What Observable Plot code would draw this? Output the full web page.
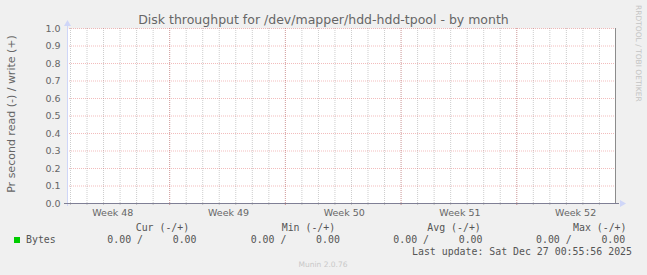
<!DOCTYPE html>
<html>
<head>
<meta charset="utf-8">
<script src="https://cdn.jsdelivr.net/npm/d3@7"></script>
<script src="https://cdn.jsdelivr.net/npm/@observablehq/plot@0.6"></script>
<style>
  html, body { margin: 0; padding: 0; background: #f0f0f0; }
  #chart { width: 647px; height: 275px; overflow: hidden; }
  text.pre { white-space: pre; }
</style>
</head>
<body>
<div id="chart"></div>
<script>
// ---- data ----
const titleText = "Disk throughput for /dev/mapper/hdd-hdd-tpool - by month";
const yAxisTitle = "Pr second read (-) / write (+)";
const sideText = "RRDTOOL / TOBI OETIKER";
const footerText = "Munin 2.0.76";
const timeStart = new Date("2025-11-23T19:40:00Z");
const timeEnd = new Date("2025-12-26T23:21:00Z");
const weekLabels = ["Week 48", "Week 49", "Week 50", "Week 51", "Week 52"];
const weekStarts = ["2025-11-23", "2025-11-30", "2025-12-07", "2025-12-14", "2025-12-21"];
const yTicks = [0.0, 0.1, 0.2, 0.3, 0.4, 0.5, 0.6, 0.7, 0.8, 0.9, 1.0];
const seriesNames = ["Bytes"];
const seriesColors = ["#00cc00"];
const statHeaders = ["Cur (-/+)", "Min (-/+)", "Avg (-/+)", "Max (-/+)"];
const readStats = [0.00, 0.00, 0.00, 0.00];
const writeStats = [0.00, 0.00, 0.00, 0.00];
const lastUpdate = "Last update: Sat Dec 27 00:55:56 2025";

// ---- derived ----
const DAY = 86400000;
const weekStartDates = weekStarts.map(s => new Date(s + "T00:00:00Z"));
const weekMids = weekStartDates.map(d => new Date(+d + 3.5 * DAY));
const weekLabelMap = new Map(weekMids.map((d, i) => [+d, weekLabels[i]]));
const majorLines = weekStartDates.filter(d => d >= timeStart && d <= timeEnd);
const days = d3.utcDay.range(timeStart, timeEnd);

const plot = Plot.plot({
  width: 647,
  height: 275,
  marginLeft: 67,
  marginRight: 32,
  marginTop: 28,
  marginBottom: 72,
  style: { background: "transparent", fontFamily: "DejaVu Sans, sans-serif", color: "#666" },
  x: { type: "utc", domain: [timeStart, timeEnd] },
  y: { domain: [0, 1] },
  marks: [
    Plot.frame({ fill: "white", stroke: null }),
    Plot.ruleX(days, { x: d => d, stroke: "#8f8f8f", strokeOpacity: 0.45, strokeDasharray: "1,1", insetBottom: -3 }),
    Plot.ruleY(yTicks.filter(d => d > 0), { y: d => d, stroke: "#de4f4f", strokeOpacity: 0.38, strokeDasharray: "1,1", insetRight: -2 }),
    Plot.ruleX(majorLines, { x: d => d, stroke: "#de4f4f", strokeOpacity: 0.38, strokeDasharray: "1,1", insetBottom: -3 }),
    Plot.ruleX([timeStart], { stroke: "#cfd6f8", insetTop: -5, insetBottom: -3 }),
    Plot.ruleX([timeEnd], { stroke: "#8c8c8c" }),
    Plot.ruleY([0], { stroke: "#7f7f95", insetLeft: -3, insetRight: -4 }),
    Plot.dot([timeStart], { x: d => d, y: () => 1, dy: -4.5, symbol: "triangle", r: 2.6, fill: "#cfd6f8", stroke: null }),
    Plot.dot([timeEnd], { x: d => d, y: () => 0, dx: 6.5, symbol: "triangle", rotate: 90, r: 2.6, fill: "#cfd6f8", stroke: null }),
    Plot.axisY(yTicks, { tickSize: 0, tickPadding: 7, tickFormat: d => d.toFixed(1), fontSize: 9.5, fill: "#666", label: null }),
    Plot.axisX(weekMids, { tickSize: 0, tickPadding: 6, tickFormat: d => weekLabelMap.get(+d), fontSize: 9.5, fill: "#666", label: null, dx: 1 })
  ]
});

document.getElementById("chart").appendChild(plot);

const svg = d3.select(plot);
const mono = "DejaVu Sans Mono, monospace";

svg.append("text")
  .attr("x", 323.5).attr("y", 24)
  .attr("text-anchor", "middle")
  .attr("font-family", "DejaVu Sans, sans-serif")
  .attr("font-size", 12.5)
  .attr("fill", "#666")
  .text(titleText);

svg.append("text")
  .attr("transform", "translate(14.5,114) rotate(-90)")
  .attr("text-anchor", "middle")
  .attr("font-family", "DejaVu Sans, sans-serif")
  .attr("font-size", 11)
  .attr("fill", "#666")
  .text(yAxisTitle);

svg.append("text")
  .attr("transform", "translate(635.5,5) rotate(90)")
  .attr("text-anchor", "start")
  .attr("font-family", "DejaVu Sans, sans-serif")
  .attr("font-size", 7.5)
  .attr("fill", "#c4c4c4")
  .text(sideText);

// legend
const headerStarts = [135.7, 281.7, 427.3, 573];
const valueStarts = [107.3, 250.7, 393.3, 536];
const fs = 9.9;
statHeaders.forEach((h, i) => {
  svg.append("text").attr("class", "pre")
    .attr("x", headerStarts[i]).attr("y", 231)
    .attr("text-anchor", "start")
    .attr("font-family", mono).attr("font-size", fs).attr("fill", "#555")
    .text(h);
});
seriesNames.forEach((name, s) => {
  svg.append("rect")
    .attr("x", 14).attr("y", 237).attr("width", 6).attr("height", 6)
    .attr("fill", seriesColors[s]);
  svg.append("text").attr("class", "pre")
    .attr("x", 26).attr("y", 243)
    .attr("text-anchor", "start")
    .attr("font-family", mono).attr("font-size", fs).attr("fill", "#555")
    .text(name);
  readStats.forEach((v, i) => {
    svg.append("text").attr("class", "pre")
      .attr("x", valueStarts[i]).attr("y", 243)
      .attr("text-anchor", "start")
      .attr("font-family", mono).attr("font-size", fs).attr("fill", "#555")
      .text(v.toFixed(2) + " /     " + writeStats[i].toFixed(2));
  });
});
svg.append("text").attr("class", "pre")
  .attr("x", 632).attr("y", 255)
  .attr("text-anchor", "end")
  .attr("font-family", mono).attr("font-size", fs).attr("fill", "#555")
  .text(lastUpdate);

svg.append("text")
  .attr("x", 323).attr("y", 267)
  .attr("text-anchor", "middle")
  .attr("font-family", "DejaVu Sans, sans-serif")
  .attr("font-size", 7.5)
  .attr("fill", "#c8c8c8")
  .text(footerText);
</script>
</body>
</html>
